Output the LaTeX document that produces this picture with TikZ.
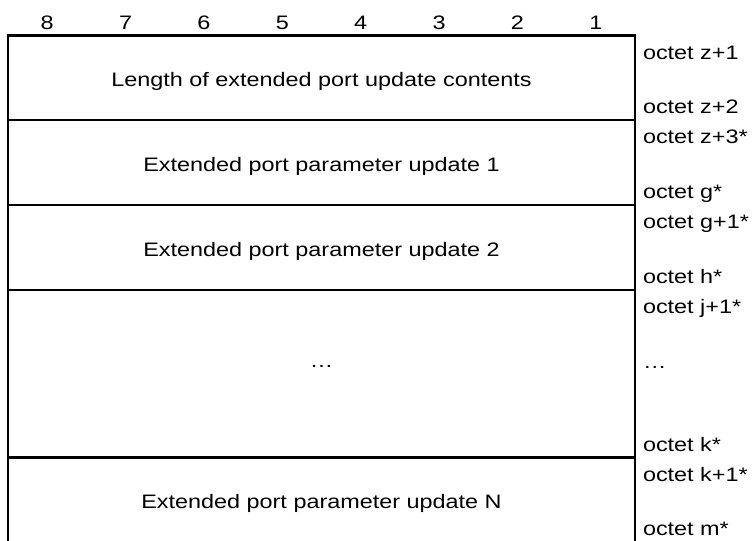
\documentclass[tikz,border=0pt]{standalone}
\usepackage{fontspec}
\setmainfont{Liberation Sans}[FakeStretch=1.2]
\usetikzlibrary{calc}
\begin{document}
\begin{tikzpicture}[x=1bp,y=-1bp,
  frame/.style={line width=2.5bp, black},
  sep/.style={line width=2.5bp, black, line cap=rect},
  field/.style={minimum width=627bp, inner sep=0pt, outer sep=0pt},
  txt/.style={font=\fontsize{19.5bp}{23bp}\selectfont, inner sep=0pt, outer sep=0pt},
  lbl/.style={txt, anchor=base},
  oct/.style={txt, anchor=base west},
  bitno/.style={txt, anchor=base}]
\useasboundingbox (0,0) rectangle (755,541);
% fields
\node[field, minimum height=84.5bp] (r1) at (321.5,77.75) {};
\node[field, minimum height=85bp] (r2) at (321.5,162.5) {};
\node[field, minimum height=85bp] (r3) at (321.5,247.5) {};
\node[field, minimum height=167.5bp] (r4) at (321.5,373.75) {};
\node[field, minimum height=84.5bp] (r5) at (321.5,499.75) {};
% frame
\draw[frame] (r5.south west) -- (r1.north west) -- (r1.north east) -- (r5.south east);
\draw[sep] (r2.north west) -- (r2.north east);
\draw[sep] (r3.north west) -- (r3.north east);
\draw[sep] (r4.north west) -- (r4.north east);
\draw[sep] (r5.north west) -- (r5.north east);
% bit numbers
\foreach \i in {1,...,8}
  \node[bitno] (b\i) at ({8+627*(8-\i+0.5)/8},29.3) {\i};
% field texts
\node[lbl] (t1) at ($(r1.center)+(0,9)$) {Length of extended port update contents};
\node[lbl] (t2) at ($(r2.center)+(0,9)$) {Extended port parameter update 1};
\node[lbl] (t3) at ($(r3.center)+(0,9)$) {Extended port parameter update 2};
\node[lbl] (t4) at ($(r4.center)+(0,-6)$) {…};
\node[lbl] (t5) at ($(r5.center)+(0,9)$) {Extended port parameter update N};
% octet labels
\node[oct] (o1) at (643,59.3) {octet z+1};
\node[oct] (o2) at (643,113.3) {octet z+2};
\node[oct] (o3) at (643,143.5) {octet z+3*};
\node[oct] (o4) at (643,199) {octet g*};
\node[oct] (o5) at (643,228.5) {octet g+1*};
\node[oct] (o6) at (643,284) {octet h*};
\node[oct] (o7) at (643,313.5) {octet j+1*};
\node[oct] (o8) at (643,368) {…};
\node[oct] (o9) at (643,451) {octet k*};
\node[oct] (o10) at (643,481) {octet k+1*};
\node[oct] (o11) at (643,535.5) {octet m*};
\end{tikzpicture}
\end{document}
